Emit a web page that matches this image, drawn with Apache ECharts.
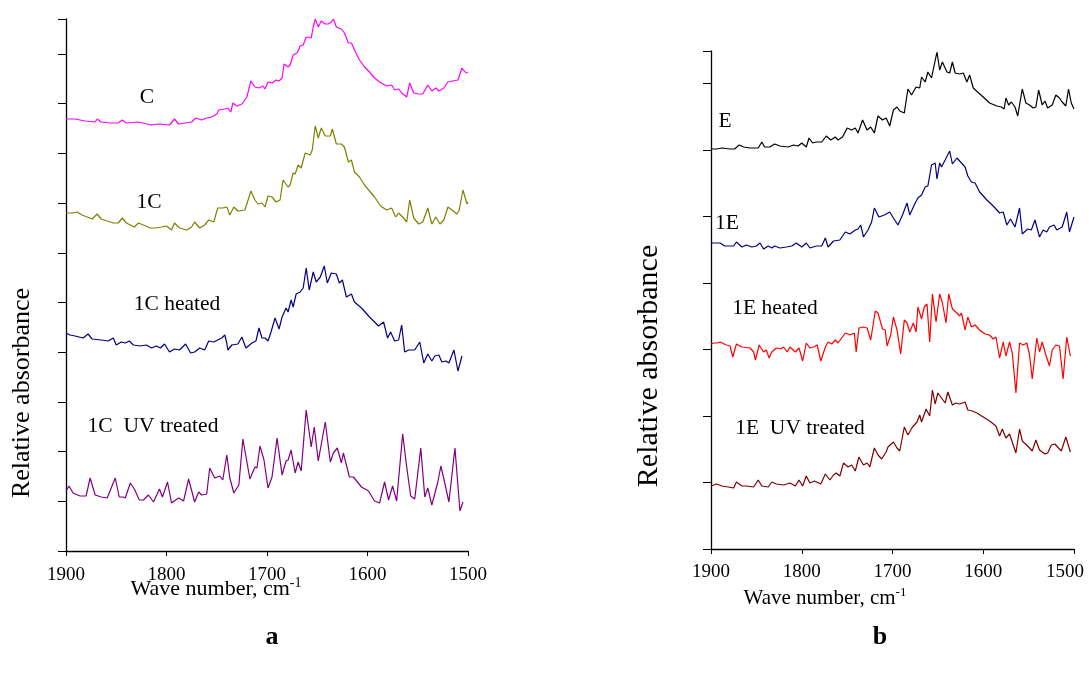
<!DOCTYPE html>
<html>
<head>
<meta charset="utf-8">
<script src="https://cdn.jsdelivr.net/npm/echarts@6/dist/echarts.min.js"></script>
<style>
  html, body { margin: 0; padding: 0; background: #fff; }
  #chart { width: 1089px; height: 678px; }
</style>
</head>
<body>
<div id="chart"></div>
<script>
// FTIR amide I region, wavenumber (cm-1) vs relative absorbance (offset traces)
const waveTicks = [1500, 1900, 100]; // min, max, step of the wavenumber axes

// Panel a: collagen C and 1C samples
const specC = [[1900,432],[1891,432],[1881,430],[1871,429],[1869,432],[1865,429],[1855,428],[1848,428],[1844,431],[1840,428],[1828,429],[1815,426],[1808,427],[1797,426],[1792,432],[1788,427],[1775,429],[1771,433],[1765,431],[1760,433],[1755,434],[1750,437],[1748,441],[1742,442],[1739,443],[1736,439],[1734,448],[1730,445],[1725,447],[1720,454],[1716,470],[1712,464],[1708,463],[1704,465],[1702,462],[1699,469],[1695,468],[1691,471],[1688,470],[1685,473],[1683,487],[1679,484],[1677,486],[1674,496],[1670,498],[1667,505],[1664,506],[1661,514],[1656,513],[1654,524],[1652,532],[1649,524],[1646,530],[1642,527],[1639,527],[1636,529],[1634,532],[1631,524],[1626,522],[1623,518],[1619,508],[1616,508],[1612,499],[1608,491],[1603,484],[1598,479],[1593,473],[1588,469],[1581,465],[1576,466],[1573,461],[1569,462],[1566,458],[1561,454],[1558,468],[1554,458],[1549,457],[1545,457],[1540,466],[1536,460],[1532,463],[1529,460],[1524,463],[1520,469],[1515,470],[1510,471],[1506,483],[1503,479],[1500,478]];
const spec1C = [[1900,338],[1894,338],[1889,339],[1884,336],[1874,332],[1869,337],[1865,332],[1853,328],[1848,328],[1844,333],[1840,328],[1832,324],[1828,328],[1823,326],[1816,323],[1811,323],[1805,324],[1800,325],[1795,321],[1792,328],[1787,323],[1780,321],[1775,324],[1772,329],[1767,323],[1762,326],[1758,331],[1753,329],[1749,343],[1744,343],[1740,344],[1737,336],[1733,344],[1729,340],[1722,341],[1716,360],[1712,351],[1709,347],[1705,348],[1702,344],[1699,355],[1695,354],[1691,349],[1687,351],[1684,371],[1679,364],[1677,366],[1674,378],[1672,377],[1669,386],[1666,383],[1662,398],[1657,396],[1655,401],[1652,425],[1649,413],[1646,423],[1642,415],[1637,415],[1635,422],[1631,407],[1626,407],[1623,404],[1619,389],[1616,391],[1613,379],[1608,374],[1603,366],[1598,360],[1593,354],[1587,345],[1581,341],[1576,343],[1572,334],[1569,338],[1565,334],[1561,329],[1558,351],[1554,333],[1549,327],[1545,329],[1540,343],[1536,327],[1532,334],[1528,327],[1524,331],[1520,344],[1516,341],[1511,337],[1509,340],[1505,361],[1501,347],[1500,349]];
const spec1CHeated = [[1900,218],[1896,216],[1891,215],[1883,213],[1878,217],[1874,212],[1865,211],[1858,210],[1853,213],[1850,206],[1845,209],[1841,208],[1837,210],[1833,206],[1826,205],[1820,206],[1815,203],[1810,205],[1806,203],[1802,207],[1797,199],[1792,202],[1787,201],[1781,207],[1776,198],[1772,199],[1767,203],[1762,201],[1758,210],[1753,209],[1749,211],[1745,213],[1742,216],[1740,208],[1739,201],[1735,206],[1729,207],[1725,214],[1721,203],[1715,208],[1711,210],[1708,223],[1705,213],[1702,213],[1699,210],[1696,219],[1692,233],[1688,222],[1685,234],[1681,243],[1679,239],[1676,251],[1674,244],[1671,257],[1667,259],[1664,263],[1661,283],[1658,261],[1654,279],[1651,269],[1647,274],[1643,285],[1640,268],[1636,278],[1631,277],[1628,268],[1625,271],[1621,254],[1616,257],[1613,249],[1606,243],[1598,234],[1589,225],[1584,229],[1580,213],[1577,219],[1573,210],[1569,211],[1566,226],[1563,199],[1559,201],[1553,201],[1548,209],[1544,188],[1540,197],[1536,190],[1533,195],[1529,196],[1526,189],[1522,190],[1519,188],[1514,201],[1510,180],[1506,195]];
const spec1CUV = [[1900,60],[1897,65],[1893,58],[1886,55],[1880,55],[1876,73],[1871,56],[1865,54],[1859,53],[1851,73],[1847,54],[1843,54],[1841,53],[1836,68],[1832,62],[1827,51],[1823,51],[1818,56],[1813,49],[1807,62],[1804,54],[1799,69],[1795,48],[1788,53],[1783,50],[1778,72],[1772,49],[1768,59],[1765,56],[1760,57],[1757,83],[1752,73],[1747,75],[1744,71],[1740,96],[1737,73],[1733,58],[1728,66],[1724,112],[1717,72],[1712,84],[1710,83],[1707,105],[1703,91],[1699,63],[1695,74],[1690,113],[1685,76],[1681,90],[1679,91],[1676,101],[1672,78],[1669,89],[1666,80],[1661,141],[1656,104],[1653,124],[1649,90],[1642,129],[1637,89],[1634,98],[1630,103],[1626,88],[1624,98],[1618,74],[1614,74],[1606,64],[1599,60],[1593,50],[1588,48],[1583,69],[1579,51],[1575,65],[1571,50],[1565,117],[1561,84],[1557,55],[1553,52],[1547,103],[1543,54],[1540,63],[1536,46],[1530,69],[1527,85],[1524,72],[1519,49],[1513,103],[1508,40],[1505,49]];

// Panel b: elastin E and 1E samples
const specE = [[1900,400],[1894,400],[1888,401],[1879,400],[1874,400],[1869,404],[1864,402],[1857,401],[1848,401],[1844,407],[1841,402],[1835,402],[1830,405],[1824,403],[1815,402],[1809,404],[1804,403],[1800,406],[1795,402],[1792,411],[1788,406],[1784,407],[1778,407],[1773,413],[1768,409],[1763,412],[1760,409],[1755,412],[1750,421],[1745,419],[1741,421],[1738,416],[1733,429],[1728,419],[1724,422],[1720,416],[1716,433],[1711,429],[1707,431],[1703,423],[1699,439],[1695,442],[1692,438],[1687,436],[1683,460],[1679,454],[1674,462],[1670,461],[1668,472],[1664,467],[1661,477],[1657,471],[1651,497],[1648,479],[1645,487],[1640,477],[1637,476],[1634,487],[1631,476],[1626,475],[1622,476],[1618,467],[1615,474],[1611,461],[1605,456],[1600,452],[1593,446],[1585,443],[1580,442],[1577,440],[1575,451],[1572,444],[1569,447],[1565,442],[1562,433],[1557,460],[1553,446],[1549,444],[1545,441],[1542,442],[1539,459],[1535,444],[1532,448],[1529,441],[1524,444],[1520,454],[1516,451],[1513,447],[1509,443],[1506,460],[1503,446],[1500,440]];
const spec1E = [[1900,306],[1894,306],[1890,306],[1885,303],[1875,303],[1872,307],[1866,302],[1861,304],[1855,302],[1850,303],[1846,306],[1842,300],[1837,303],[1833,301],[1830,303],[1824,301],[1817,302],[1811,303],[1806,306],[1800,302],[1795,306],[1791,301],[1784,303],[1778,303],[1774,311],[1771,302],[1765,308],[1758,309],[1752,317],[1747,315],[1741,319],[1738,320],[1735,324],[1732,312],[1727,319],[1723,327],[1720,341],[1715,332],[1709,334],[1707,332],[1703,337],[1699,331],[1694,324],[1689,334],[1684,346],[1681,334],[1675,346],[1672,351],[1668,354],[1664,362],[1661,363],[1657,384],[1653,386],[1651,370],[1648,386],[1646,382],[1642,389],[1637,398],[1634,385],[1629,391],[1624,386],[1620,382],[1617,373],[1613,367],[1609,366],[1604,357],[1596,349],[1589,343],[1582,336],[1578,337],[1574,324],[1570,330],[1565,322],[1560,341],[1557,315],[1551,320],[1547,319],[1543,329],[1538,312],[1534,319],[1530,317],[1527,322],[1522,324],[1519,319],[1513,322],[1508,337],[1505,317],[1500,332]];
const spec1EHeated = [[1900,205],[1897,206],[1893,206],[1890,207],[1883,204],[1879,203],[1876,192],[1872,205],[1866,202],[1857,201],[1853,197],[1851,189],[1847,204],[1842,197],[1839,199],[1836,191],[1833,197],[1828,201],[1823,200],[1820,202],[1816,197],[1813,202],[1807,197],[1803,201],[1799,188],[1795,206],[1791,201],[1787,202],[1783,204],[1779,188],[1774,202],[1771,207],[1767,205],[1763,209],[1760,206],[1756,211],[1752,216],[1747,214],[1742,216],[1740,197],[1737,221],[1732,222],[1728,221],[1724,209],[1719,238],[1716,236],[1711,220],[1708,219],[1706,203],[1702,214],[1699,232],[1695,219],[1691,195],[1687,229],[1684,226],[1681,217],[1677,226],[1674,217],[1672,242],[1668,230],[1665,242],[1662,245],[1659,207],[1656,255],[1652,227],[1648,255],[1645,246],[1641,226],[1638,255],[1634,240],[1629,236],[1626,233],[1624,236],[1620,219],[1617,232],[1613,222],[1609,224],[1604,219],[1598,215],[1593,214],[1589,210],[1586,212],[1582,191],[1578,207],[1575,193],[1571,207],[1568,196],[1564,156],[1560,206],[1556,204],[1552,206],[1549,194],[1546,170],[1541,211],[1538,197],[1535,207],[1531,194],[1527,183],[1524,199],[1520,204],[1516,203],[1512,170],[1508,212],[1504,193]];
const spec1EUV = [[1900,63],[1894,65],[1888,63],[1881,62],[1875,61],[1872,67],[1866,63],[1861,63],[1853,62],[1848,69],[1844,63],[1837,62],[1833,67],[1828,65],[1820,64],[1813,66],[1807,63],[1803,69],[1799,63],[1795,73],[1791,66],[1786,68],[1779,65],[1774,75],[1769,69],[1765,74],[1762,76],[1758,73],[1754,86],[1749,82],[1745,84],[1741,78],[1737,92],[1732,84],[1728,86],[1725,82],[1720,101],[1716,94],[1712,90],[1707,97],[1705,102],[1699,107],[1695,101],[1692,98],[1687,122],[1683,114],[1678,122],[1673,127],[1670,134],[1668,127],[1663,140],[1659,133],[1656,159],[1653,145],[1650,156],[1646,151],[1642,146],[1639,157],[1634,144],[1630,146],[1626,145],[1620,147],[1617,139],[1612,138],[1607,136],[1600,132],[1593,128],[1586,123],[1582,113],[1579,120],[1575,111],[1571,115],[1564,96],[1560,120],[1557,108],[1551,103],[1546,98],[1542,109],[1538,99],[1536,101],[1532,95],[1529,96],[1525,104],[1521,105],[1518,102],[1514,98],[1509,112],[1504,97]];

// Vertical scale of each panel: [max, tick step]
const scaleA = [532, 49.7];
const scaleB = [498, 66.5];

const serif = '"Liberation Serif", "Times New Roman", serif';

// shiftLast: pull the 1500 label inward so it stays inside the page
function waveAxis(gridIndex, margin, shiftLast) {
  return {
    type: 'value', gridIndex, inverse: true,
    min: waveTicks[0], max: waveTicks[1], interval: waveTicks[2],
    axisLine: { show: true, onZero: false, lineStyle: { color: '#000', width: 1.3 } },
    axisTick: { show: true, length: 5, lineStyle: { color: '#000', width: 1 } },
    axisLabel: {
      color: '#000', fontFamily: serif, fontSize: 19, margin,
      formatter: v => (shiftLast && v === waveTicks[0]) ? '{e|' + v + '}' : String(v),
      rich: { e: { color: '#000', fontFamily: serif, fontSize: 19, padding: [0, shiftLast || 0, 0, 0] } }
    },
    splitLine: { show: false }
  };
}
function absAxis(gridIndex, scale) {
  return {
    type: 'value', gridIndex, min: 0, max: scale[0], interval: scale[1],
    axisLine: { show: true, onZero: false, lineStyle: { color: '#000', width: 1.3 } },
    axisTick: { show: true, length: 8, lineStyle: { color: '#000', width: 1 } },
    axisLabel: { show: false },
    splitLine: { show: false }
  };
}
function trace(data, color, idx) {
  return {
    type: 'line', data, xAxisIndex: idx, yAxisIndex: idx,
    symbol: 'none', showSymbol: false, silent: true,
    lineStyle: { color, width: 1.2 }, itemStyle: { color }
  };
}
function label(text, x, y, size) {
  return {
    type: 'text', x, y, silent: true,
    style: { text, fill: '#000', font: size + 'px ' + serif, align: 'center', verticalAlign: 'middle' }
  };
}
function waveTitle(x, y, size) {
  return {
    type: 'text', x, y, silent: true,
    style: {
      text: '{n|Wave number, cm}{s|-1}', fill: '#000', align: 'center', verticalAlign: 'middle',
      rich: {
        n: { fontFamily: serif, fontSize: size, fill: '#000' },
        s: { fontFamily: serif, fontSize: Math.round(size * 0.62), fill: '#000', padding: [0, 0, Math.round(size * 0.5), 0] }
      }
    }
  };
}
function yTitle(x, y, size) {
  return {
    type: 'text', x, y, rotation: Math.PI / 2, silent: true,
    style: { text: 'Relative absorbance', fill: '#000', font: size + 'px ' + serif, align: 'center', verticalAlign: 'middle' }
  };
}

const chart = echarts.init(document.getElementById('chart'), null, { renderer: 'canvas' });
chart.setOption({
  animation: false,
  backgroundColor: '#fff',
  grid: [
    { left: 66, top: 19, width: 402, height: 532, containLabel: false, outerBoundsMode: 'none' },
    { left: 711, top: 51, width: 363, height: 498, containLabel: false, outerBoundsMode: 'none' }
  ],
  xAxis: [waveAxis(0, 15, 0), waveAxis(1, 14, 18)],
  yAxis: [absAxis(0, scaleA), absAxis(1, scaleB)],
  series: [
    trace(specC, '#ff00ff', 0),
    trace(spec1C, '#808000', 0),
    trace(spec1CHeated, '#000080', 0),
    trace(spec1CUV, '#800080', 0),
    trace(specE, '#000000', 1),
    trace(spec1E, '#000080', 1),
    trace(spec1EHeated, '#ff0000', 1),
    trace(spec1EUV, '#800000', 1)
  ],
  graphic: [
    label('C', 147, 97, 21.5),
    label('1C', 149, 202, 21.5),
    label('1C heated', 177, 304, 21.5),
    label('1C  UV treated', 153, 426, 21.5),
    label('E', 725, 121, 21.5),
    label('1E', 727, 223, 21.5),
    label('1E heated', 775, 308, 21.5),
    label('1E  UV treated', 800, 428, 21.5),
    waveTitle(216, 589, 22),
    waveTitle(825, 598, 21),
    yTitle(22, 393, 26),
    yTitle(649, 366, 30),
    {
      type: 'text', x: 272, y: 637, silent: true,
      style: { text: 'a', fill: '#000', font: 'bold 26px ' + serif, align: 'center', verticalAlign: 'middle' }
    },
    {
      type: 'text', x: 880, y: 637, silent: true,
      style: { text: 'b', fill: '#000', font: 'bold 26px ' + serif, align: 'center', verticalAlign: 'middle' }
    }
  ]
});
</script>
</body>
</html>
